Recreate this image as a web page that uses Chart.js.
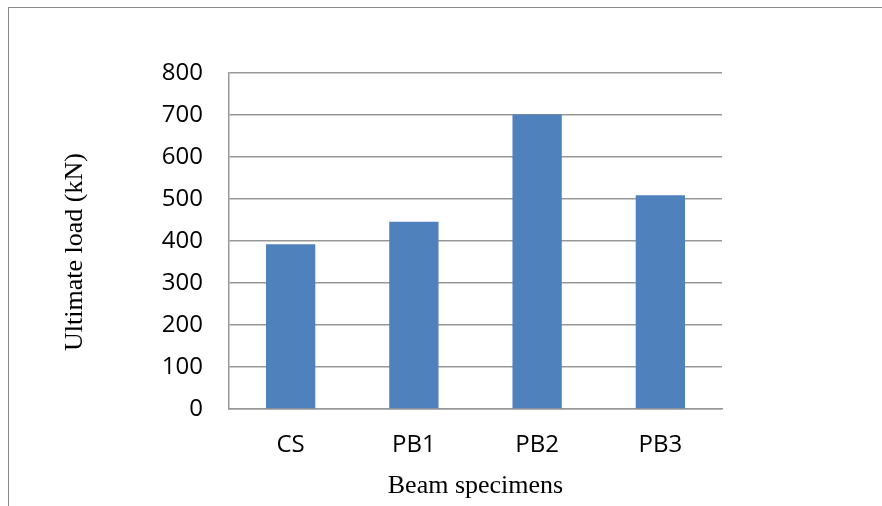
<!DOCTYPE html>
<html>
<head>
<meta charset="utf-8">
<script src="https://cdn.jsdelivr.net/npm/chart.js@4"></script>
<style>
    html, body { margin: 0; padding: 0; background: #fff; }
    #wrap { position: relative; width: 882px; height: 506px; overflow: hidden; }
    #frame { position: absolute; left: 8px; top: 7px; width: 900px; height: 520px;
             border-left: 1.5px solid #8a8a8a; border-top: 1.5px solid #8a8a8a; }
    canvas { position: absolute; left: 0; top: 0; }
</style>
</head>
<body>
<div id="wrap">
    <div id="frame"></div>
    <canvas id="chart" width="882" height="506"></canvas>
</div>
<script>
    var specimens = ['CS', 'PB1', 'PB2', 'PB3'];
    var ultimateLoad = [392, 446, 701, 509];
    var yTicks = [0, 100, 200, 300, 400, 500, 600, 700, 800];

    var gridColor = '#979797';

    // y axis title sits a bit below the plot centre in the original, so draw it by hand
    var yTitlePlugin = {
        id: 'yTitle',
        afterDraw: function(chart) {
            var c = chart.ctx;
            c.save();
            c.translate(75, 252);
            c.rotate(-Math.PI / 2);
            c.fillStyle = '#000';
            c.font = '26px "Liberation Serif"';
            c.textAlign = 'center';
            c.textBaseline = 'middle';
            c.fillText('Ultimate load (kN)', 0, 0);
            c.restore();
        }
    };

    var ctx = document.getElementById('chart');
    var chart = new Chart(ctx, {
        type: 'bar',
        data: {
            labels: specimens,
            datasets: [{
                data: ultimateLoad,
                backgroundColor: '#4f81bd',
                borderWidth: 0,
                categoryPercentage: 1,
                barPercentage: 0.4
            }]
        },
        options: {
            responsive: false,
            animation: false,
            layout: { padding: { top: 73, right: 160, left: 0, bottom: 0 } },
            plugins: {
                legend: { display: false },
                tooltip: { enabled: false }
            },
            scales: {
                x: {
                    grid: { display: false, drawTicks: false },
                    border: { color: gridColor, width: 1.5 },
                    ticks: {
                        padding: 22,
                        color: '#000',
                        font: { family: 'Open Sans', size: 24 }
                    },
                    title: {
                        display: true,
                        text: 'Beam specimens',
                        color: '#000',
                        padding: { top: 0, bottom: 4 },
                        font: { family: 'Liberation Serif', size: 26 }
                    },
                    afterFit: function(scale) { scale.height = 97; }
                },
                y: {
                    min: 0,
                    max: 800,
                    afterBuildTicks: function(scale) {
                        scale.ticks = yTicks.map(function(v) { return { value: v }; });
                    },
                    grid: { color: gridColor, lineWidth: 1.5, drawTicks: false },
                    border: { color: gridColor, width: 1.5 },
                    ticks: {
                        padding: 26,
                        color: '#000',
                        font: { family: 'Open Sans', size: 24 }
                    },
                    title: { display: false },
                    afterFit: function(scale) { scale.width = 229; }
                }
            }
        },
        plugins: [yTitlePlugin]
    });
</script>
</body>
</html>
